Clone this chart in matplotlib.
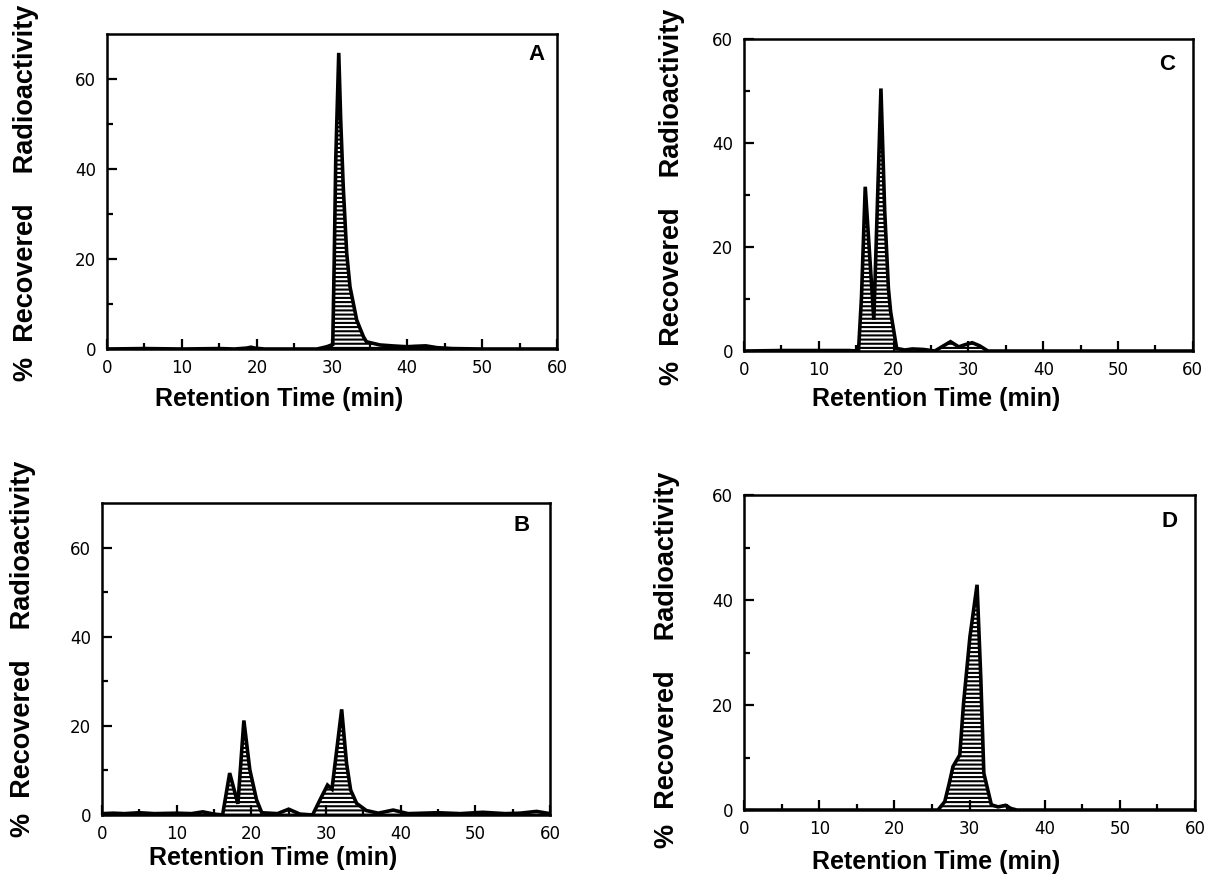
import matplotlib
matplotlib.use("Agg")
import matplotlib.pyplot as plt

plt.rcParams['hatch.linewidth'] = 1.5
plt.rcParams['font.family'] = ['Liberation Sans', 'DejaVu Sans']

# retention time (min) and % recovered radioactivity for each panel
time_a = [0, 5, 10, 15, 17, 18.6, 19.2, 19.7, 21, 25, 28, 29.3, 30.1, 30.3, 30.5, 30.9,
          31.16, 31.5, 31.96, 32.4, 33.3, 34.2, 34.6, 36.4, 38, 40, 41, 42.5, 44, 46, 50, 55, 60]
value_a = [0, 0.1, 0, 0.1, 0, 0.2, 0.4, 0.2, 0, 0, 0, 0.5, 1, 20, 42, 65.8,
           50.9, 36, 21.3, 13.8, 6.4, 2.7, 1.6, 0.9, 0.7, 0.5, 0.6, 0.7, 0.3, 0.1, 0, 0, 0]

time_b = [0, 1.5, 3, 5, 7, 10, 12, 13.5, 15, 16.15, 17.1, 18.2, 19.0, 19.8, 20.7, 21.4,
          23.5, 25.0, 26.5, 28.2, 29.2, 30.2, 30.8, 32.1, 32.75, 33.3, 34.1, 35.4, 37,
          39.0, 41, 45, 48, 51, 54, 56, 58.2, 60]
value_b = [0.3, 0.4, 0.3, 0.5, 0.3, 0.4, 0.3, 0.7, 0.2, 0, 9.4, 2.5, 21.2, 10.1, 3.4, 0.5,
           0.3, 1.3, 0.2, 0, 3.4, 6.7, 5.8, 23.7, 11.6, 5.6, 2.6, 1.0, 0.4,
           1.1, 0.3, 0.5, 0.3, 0.6, 0.3, 0.4, 0.8, 0.3]

time_c = [0, 5, 10, 14, 15.3, 15.7, 16.2, 17.35, 18.3, 18.8, 19.3, 19.6, 20.4, 21.5,
          22.5, 24, 25.5, 27.6, 28.7, 29.5, 30.5, 31.5, 32.6, 35, 40, 50, 60]
value_c = [0, 0.1, 0.1, 0.1, 0, 10.4, 31.6, 6.0, 50.5, 27, 12, 7.5, 0.5, 0.2,
           0.4, 0.3, 0, 1.8, 0.8, 1.2, 1.6, 1.0, 0, 0, 0, 0, 0]

time_d = [0, 10, 20, 25, 25.8, 26.7, 27.3, 27.8, 28.7, 29.2, 30.05, 31.0, 31.5, 31.9,
          32.9, 33.8, 34.8, 35.5, 36.3, 40, 50, 60]
value_d = [0, 0, 0, 0, 0, 1.6, 5.1, 8.3, 10.5, 20.3, 33, 42.9, 25, 7,
           1.0, 0.6, 0.9, 0.3, 0, 0, 0, 0]

ylabel = '%  Recovered    Radioactivity'
xlabel = 'Retention Time (min)'

fig = plt.figure(figsize=(12.13, 8.80), dpi=100)


def panel(rect, t, v, ymax, letter, letter_pos, xlab_pos, ylab_pos):
    ax = fig.add_axes(rect)
    ax.fill_between(t, 0, v, facecolor='white', edgecolor='black', hatch='----', linewidth=0)
    ax.plot(t, v, color='black', linewidth=2.6, solid_joinstyle='miter')
    ax.set_xlim(0, 60)
    ax.set_ylim(0, ymax)
    ax.set_xticks(range(0, 61, 10))
    ax.set_xticks(range(5, 60, 10), minor=True)
    ax.set_yticks(range(0, 61, 20))
    ax.set_yticks(range(10, ymax, 20), minor=True)
    ax.tick_params(which='both', direction='in', top=False, right=False, width=1.6)
    ax.tick_params(which='major', length=7)
    ax.tick_params(which='minor', length=4)
    ax.tick_params(axis='x', pad=7)
    ax.tick_params(axis='y', pad=8)
    for lab in ax.get_xticklabels() + ax.get_yticklabels():
        lab.set_family('DejaVu Sans')
        lab.set_fontsize(12)
    for s in ax.spines.values():
        s.set_linewidth(1.8)
    ax.text(letter_pos[0], letter_pos[1], letter, transform=ax.transAxes,
            fontsize=16, fontweight='bold', ha='center', va='center')
    ax.text(xlab_pos[0], xlab_pos[1], xlabel, transform=ax.transAxes,
            fontsize=18, fontweight='bold', ha='center', va='center')
    ax.text(ylab_pos[0], ylab_pos[1], ylabel, transform=ax.transAxes, rotation=90,
            fontsize=19.5, fontweight='bold', ha='center', va='center', rotation_mode='anchor')
    return ax


panel([0.0882, 0.6034, 0.371, 0.358], time_a, value_a, 70, 'A', (0.955, 0.934), (0.382, -0.159), (-0.18, 0.495))
panel([0.0841, 0.0739, 0.3693, 0.3545], time_b, value_b, 70, 'B', (0.937, 0.927), (0.382, -0.138), (-0.176, 0.532))
panel([0.6134, 0.6011, 0.370, 0.3545], time_c, value_c, 60, 'C', (0.943, 0.919), (0.428, -0.154), (-0.16, 0.495))
panel([0.6134, 0.0795, 0.3718, 0.358], time_d, value_d, 60, 'D', (0.943, 0.917), (0.426, -0.165), (-0.171, 0.476))

plt.savefig('out.png', dpi=100)
